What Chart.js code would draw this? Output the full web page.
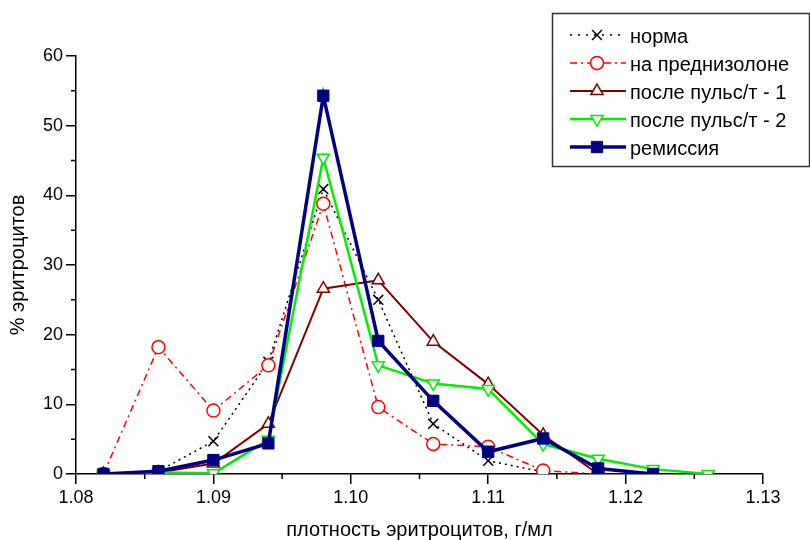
<!DOCTYPE html>
<html>
<head>
<meta charset="utf-8">
<script src="https://cdn.jsdelivr.net/npm/chart.js"></script>
<style>
  html, body { margin: 0; padding: 0; background: #fff; }
  #wrap { width: 810px; height: 540px; }
</style>
</head>
<body>
<div id="wrap"><canvas id="myChart" width="810" height="540"></canvas></div>
<script>
// плотность, г/мл
const density = [1.082, 1.086, 1.090, 1.094, 1.098, 1.102, 1.106, 1.110, 1.114, 1.118, 1.122, 1.126];

const norma       = [0, 0.4, 4.7, 16.1, 40.9, 25.0, 7.2, 1.9, 0.3];
const prednizolon = [0, 18.2, 9.1, 15.6, 38.8, 9.6, 4.3, 3.9, 0.5, 0];
const puls1       = [0, 0.2, 1.5, 7.2, 26.6, 27.8, 19.0, 12.9, 5.6, 0];
const puls2       = [0, 0.2, 0.1, 4.9, 45.4, 15.6, 13.0, 12.2, 4.3, 2.2, 0.7, 0];
const remissiya   = [0, 0.4, 2.0, 4.4, 54.3, 19.1, 10.5, 3.2, 5.1, 0.8, 0];

const seriesNames = ["норма", "на преднизолоне", "после пульс/т - 1", "после пульс/т - 2", "ремиссия"];

const xTicks = [1.08, 1.09, 1.10, 1.11, 1.12, 1.13];
const yTicks = [0, 10, 20, 30, 40, 50, 60];

const FONT = "'Liberation Sans', Arial, sans-serif";

function toPoints(vals) {
  return vals.map((v, i) => ({ x: density[i], y: v }));
}

// minor ticks + legend box
const extras = {
  id: "extras",
  afterDraw(chart) {
    const ctx = chart.ctx;
    const xs = chart.scales.x, ys = chart.scales.y;
    ctx.save();
    ctx.strokeStyle = "#000";
    ctx.lineWidth = 1.5;
    ctx.beginPath();
    for (let i = 0; i < xTicks.length - 1; i++) {
      const px = xs.getPixelForValue(xTicks[i] + 0.005);
      ctx.moveTo(px, ys.bottom);
      ctx.lineTo(px, ys.bottom + 5);
    }
    for (let i = 0; i < yTicks.length - 1; i++) {
      const py = ys.getPixelForValue(yTicks[i] + 5);
      ctx.moveTo(xs.left, py);
      ctx.lineTo(xs.left - 5, py);
    }
    ctx.stroke();

    // legend
    ctx.lineWidth = 1.5;
    ctx.strokeStyle = "#333";
    ctx.strokeRect(552.5, 13.5, 257, 153);
    const rows = [35, 63, 91, 119, 147];
    ctx.font = "20px " + FONT;
    ctx.textBaseline = "middle";
    chart.data.datasets.forEach((ds, i) => {
      const y = rows[i];
      ctx.save();
      ctx.strokeStyle = ds.borderColor;
      ctx.lineWidth = ds.borderWidth;
      ctx.setLineDash(i === 0 ? [2, 6] : (ds.borderDash || []));
      ctx.beginPath();
      ctx.moveTo(570, y);
      ctx.lineTo(626, y);
      ctx.stroke();
      ctx.setLineDash([]);
      ctx.fillStyle = ds.pointBackgroundColor;
      ctx.strokeStyle = ds.pointBorderColor;
      ctx.lineWidth = ds.pointBorderWidth;
      Chart.helpers.drawPoint(ctx, {
        pointStyle: ds.pointStyle,
        radius: ds.pointRadius,
        rotation: ds.pointRotation || 0,
        borderWidth: ds.pointBorderWidth
      }, 597, y);
      ctx.restore();
      ctx.fillStyle = "#000";
      ctx.fillText(ds.label, 630, y + 2);
    });
    ctx.restore();
  }
};

new Chart(document.getElementById("myChart"), {
  type: "line",
  data: {
    datasets: [
      {
        label: seriesNames[0],
        data: toPoints(norma),
        borderColor: "#000",
        borderWidth: 1.5,
        borderDash: [2, 4],
        pointStyle: "crossRot",
        pointRadius: 7,
        pointBorderWidth: 1.5,
        pointBorderColor: "#000",
        pointBackgroundColor: "#000",
        order: 4
      },
      {
        label: seriesNames[1],
        data: toPoints(prednizolon),
        borderColor: "#ff0000",
        borderWidth: 1.5,
        borderDash: [7, 4, 2, 4],
        pointStyle: "circle",
        pointRadius: 6.5,
        pointBorderWidth: 1.5,
        pointBorderColor: "#ff0000",
        pointBackgroundColor: "#fff",
        order: 3
      },
      {
        label: seriesNames[2],
        data: toPoints(puls1),
        borderColor: "#800000",
        borderWidth: 2,
        pointStyle: "triangle",
        pointRadius: 7,
        pointBorderWidth: 1.5,
        pointBorderColor: "#800000",
        pointBackgroundColor: "#fff",
        order: 2
      },
      {
        label: seriesNames[3],
        data: toPoints(puls2),
        borderColor: "#00ee00",
        borderWidth: 2.5,
        pointStyle: "triangle",
        pointRotation: 180,
        pointRadius: 7,
        pointBorderWidth: 1.5,
        pointBorderColor: "#00ee00",
        pointBackgroundColor: "#fff",
        order: 1
      },
      {
        label: seriesNames[4],
        data: toPoints(remissiya),
        borderColor: "#000080",
        borderWidth: 3.5,
        pointStyle: "rect",
        pointRadius: 8,
        pointBorderWidth: 1,
        pointBorderColor: "#000080",
        pointBackgroundColor: "#000080",
        order: 0
      }
    ]
  },
  options: {
    responsive: false,
    animation: false,
    layout: { padding: { top: 56, right: 47, left: 0, bottom: 0 } },
    plugins: {
      legend: { display: false },
      tooltip: { enabled: false }
    },
    elements: { line: { tension: 0, fill: false } },
    scales: {
      x: {
        type: "linear",
        min: 1.08,
        max: 1.13,
        afterFit: (s) => { s.height = 66; },
        afterBuildTicks: (s) => { s.ticks = xTicks.map(v => ({ value: v })); },
        ticks: {
          callback: (v) => Number(v).toFixed(2),
          color: "#000",
          font: { family: FONT, size: 18 },
          padding: 3,
          maxRotation: 0
        },
        grid: { display: true, drawOnChartArea: false, tickLength: 10, color: "#000", lineWidth: 1.5 },
        border: { display: true, color: "#000", width: 1.5 },
        title: {
          display: true,
          text: "плотность эритроцитов, г/мл",
          color: "#000",
          font: { family: FONT, size: 20 },
          padding: { top: 0, bottom: -2 }
        }
      },
      y: {
        min: 0,
        max: 60,
        afterFit: (s) => { s.width = 76; },
        afterBuildTicks: (s) => { s.ticks = yTicks.map(v => ({ value: v })); },
        ticks: {
          color: "#000",
          font: { family: FONT, size: 18 },
          padding: 3
        },
        grid: { display: true, drawOnChartArea: false, tickLength: 10, color: "#000", lineWidth: 1.5 },
        border: { display: true, color: "#000", width: 1.5 },
        title: {
          display: true,
          text: "% эритроцитов",
          color: "#000",
          font: { family: FONT, size: 20 },
          padding: { top: 6, bottom: 0 }
        }
      }
    }
  },
  plugins: [extras]
});
</script>
</body>
</html>
